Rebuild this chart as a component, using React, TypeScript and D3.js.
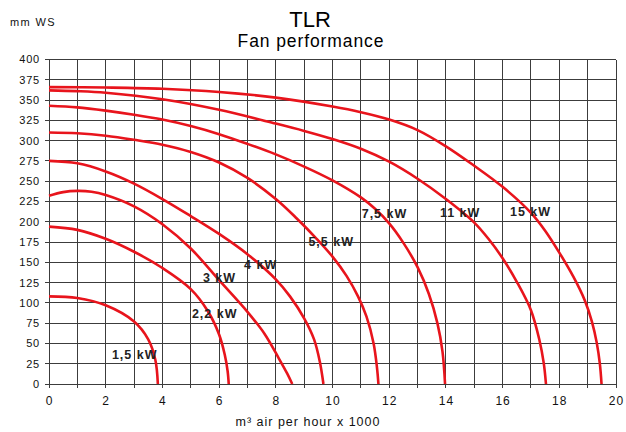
import * as d3 from "d3";

// pressure (mm WS) against air flow (m³/h x 1000), one curve per motor size
const kw15: [number, number][] = [
  [0, 366], [2, 365.5], [4, 364], [6, 360], [8, 353], [10, 342], [11, 335], [12, 326],
  [13, 313], [14, 293], [15, 269], [16, 243], [17, 211], [17.5, 189], [18, 162],
  [18.5, 132], [18.9, 103], [19.15, 77], [19.32, 51], [19.43, 25], [19.49, 0],
];
const kw11: [number, number][] = [
  [0, 362], [1, 361], [2, 359], [4, 351], [6, 338], [8, 321], [9, 312], [10, 302],
  [11, 290], [12, 274], [13, 253], [14, 228], [15, 199], [15.5, 179], [16, 155],
  [16.5, 126], [17, 91], [17.3, 54], [17.45, 26], [17.53, 0],
];
const kw7_5: [number, number][] = [
  [0, 343], [1, 341], [2, 337], [3, 332], [4, 326], [5, 318], [6, 308], [7, 296],
  [8, 283], [9, 268], [10, 251], [11, 230], [11.5, 216], [12, 198], [12.5, 174],
  [13, 144], [13.4, 111], [13.7, 75], [13.88, 40], [13.97, 0],
];
const kw5_5: [number, number][] = [
  [0, 310], [1, 309], [2, 306], [3, 301], [4, 295], [5, 286], [6, 273], [7, 254],
  [8, 228], [8.74, 204], [9.44, 179], [10, 157], [10.5, 133], [10.9, 108], [11.2, 83],
  [11.45, 50], [11.57, 20], [11.62, 0],
];
const kw4: [number, number][] = [
  [0, 275], [1, 272], [2, 262], [3, 247], [4, 228], [5, 207], [6, 185], [7, 160],
  [8, 129], [8.5, 108], [9, 81], [9.35, 55], [9.55, 28], [9.68, 0],
];
const kw3: [number, number][] = [
  [0, 232], [0.5, 236.5], [1, 238], [1.5, 237], [2, 233], [3, 219], [4, 197], [5, 167],
  [6, 128], [7, 89], [7.6, 62], [8.1, 32], [8.4, 13], [8.58, 0],
];
const kw2_2: [number, number][] = [
  [0, 194], [1, 190], [2, 179], [3, 163], [4, 143], [5, 117], [5.6, 90], [6, 61],
  [6.2, 36], [6.3, 16], [6.34, 0],
];
const kw1_5: [number, number][] = [
  [0, 108], [1, 106], [2, 97], [3, 77], [3.5, 55], [3.75, 30], [3.84, 0],
];

const curves = [kw15, kw11, kw7_5, kw5_5, kw4, kw3, kw2_2, kw1_5];

// label text and where it sits (flow, pressure of text baseline-left)
const labelNames = ["15 kW", "11 kW", "7,5 kW", "5,5 kW", "4 kW", "3 kW", "2,2 kW", "1,5 kW"];
const labelAt: [number, number][] = [
  [16.26, 207], [13.79, 206], [11.03, 205], [9.15, 170], [6.88, 142], [5.43, 126],
  [5.04, 81], [2.22, 31],
];

const flowTicks = [0, 1, 2, 3, 4, 5, 6, 7, 8, 9, 10, 11, 12, 13, 14, 15, 16, 17, 18, 19, 20];
const flowLabels = [0, 2, 4, 6, 8, 10, 12, 14, 16, 18, 20];
const pressureTicks = [
  0, 25, 50, 75, 100, 125, 150, 175, 200, 225, 250, 275, 300, 325, 350, 375, 400,
];

const W = 626;
const H = 432;
const font = "Arial, 'Liberation Sans', sans-serif";
const red = "#e8141c";

export default function App() {
  const x = d3.scaleLinear().domain([0, 20]).range([49, 616]);
  const y = d3.scaleLinear().domain([0, 400]).range([384, 59.5]);

  const line = d3
    .line<[number, number]>()
    .x((d) => x(d[0]))
    .y((d) => y(d[1]))
    .curve(d3.curveCatmullRom.alpha(0.5));

  return (
    <svg
      width={W}
      height={H}
      style={{ position: "absolute", left: 0, top: 0, background: "#fff" }}
      fontFamily={font}
    >
      {/* grid */}
      <g stroke="#3c3c3c" strokeWidth={1} shapeRendering="crispEdges">
        {flowTicks.map((t) => (
          <line key={"v" + t} x1={x(t)} x2={x(t)} y1={y(400)} y2={y(0) + 4} />
        ))}
        {pressureTicks.map((t) => (
          <line key={"h" + t} x1={x(0) - 4} x2={x(20)} y1={y(t)} y2={y(t)} />
        ))}
      </g>

      {/* y tick labels */}
      <g fontSize={11} letterSpacing={0.8} textAnchor="end" fill="#111">
        {pressureTicks.map((t) => (
          <text key={t} x={40} y={y(t)} dy="0.36em">
            {t}
          </text>
        ))}
      </g>

      {/* x tick labels */}
      <g fontSize={12} letterSpacing={1} textAnchor="middle" fill="#111">
        {flowLabels.map((t) => (
          <text key={t} x={x(t) + 0.5} y={405}>
            {t}
          </text>
        ))}
      </g>

      {/* fan curves */}
      <g fill="none" stroke={red} strokeWidth={2.6} strokeLinecap="butt">
        {curves.map((c, i) => (
          <path key={i} d={line(c) ?? ""} />
        ))}
      </g>

      {/* curve labels */}
      <g fontSize={12.5} fontWeight="bold" letterSpacing={1} fill="#222">
        {labelNames.map((n, i) => (
          <text key={n} x={x(labelAt[i][0])} y={y(labelAt[i][1])}>
            {n}
          </text>
        ))}
      </g>

      {/* titles */}
      <text x={310} y={27.3} textAnchor="middle" fontSize={22} fill="#000">
        TLR
      </text>
      <text x={311} y={46.7} textAnchor="middle" fontSize={17.5} letterSpacing={0.9} fill="#000">
        Fan performance
      </text>
      <text x={10} y={26} fontSize={11} letterSpacing={1.4} fill="#111">
        mm WS
      </text>
      <text x={308} y={426} textAnchor="middle" fontSize={12.5} letterSpacing={1} fill="#111">
        m³ air per hour x 1000
      </text>
    </svg>
  );
}
